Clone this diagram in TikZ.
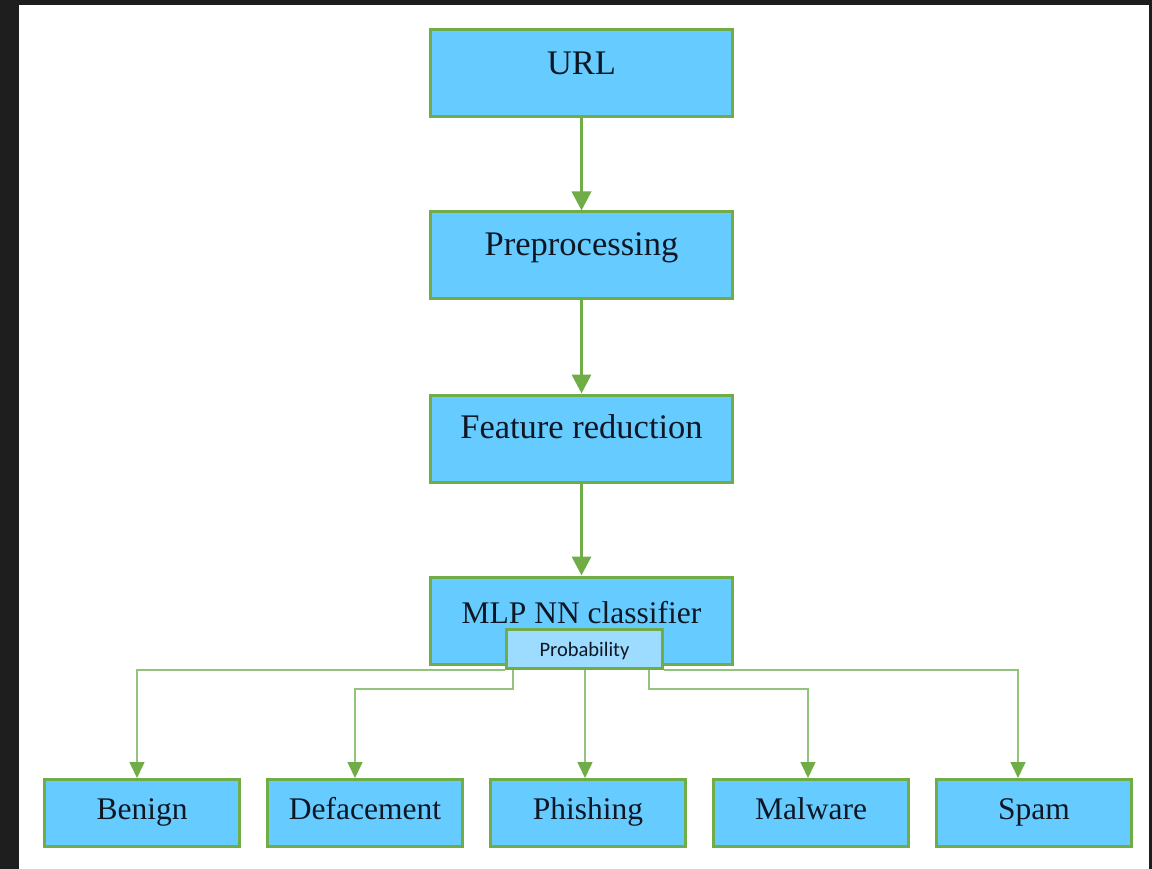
\documentclass[tikz,border=0pt]{standalone}
\usepackage{fontspec}
\setmainfont{Liberation Serif}
\newfontfamily\probfont{Carlito}
\usetikzlibrary{arrows.meta}
\definecolor{boxblue}{HTML}{66CCFF}
\definecolor{probblue}{HTML}{9DDCFF}
\definecolor{edgegreen}{HTML}{70AD47}
\definecolor{thingreen}{HTML}{93C47D}
\definecolor{txtcol}{HTML}{0F1724}
\definecolor{framecol}{HTML}{1E1E1E}
\begin{document}
\begin{tikzpicture}[x=1pt,y=-1pt,
  boxbase/.style={draw=edgegreen, line width=3pt, fill=boxblue, inner sep=0pt, text=txtcol},
  topbox/.style={boxbase, minimum width=302pt, minimum height=87pt,
    font=\fontsize{34.5}{40}\selectfont, text height=20pt, text depth=20pt},
  mlpbox/.style={boxbase, minimum width=302pt, minimum height=87pt,
    font=\fontsize{31.5}{38}\selectfont, text height=22pt, text depth=17pt},
  classbox/.style={boxbase, minimum width=195pt, minimum height=67pt,
    font=\fontsize{31.5}{38}\selectfont, text height=22pt, text depth=10pt},
  probbox/.style={boxbase, line width=2.5pt, fill=probblue, minimum width=156pt, minimum height=39pt,
    font=\probfont\fontsize{20.5}{24}\selectfont, text height=15pt, text depth=0pt},
  mainarrow/.style={draw=edgegreen, line width=3.5pt, -{Triangle[width=19pt,length=19pt]}},
  thinarrow/.style={draw=thingreen, line width=1.6pt,
    -{Triangle[width=15pt,length=16pt,color=edgegreen,fill=edgegreen]}}
]
\useasboundingbox (0,0) rectangle (1152,869);
\fill[framecol] (0,0) rectangle (1152,869);
\fill[white] (19,5) rectangle (1149,869);

\node[topbox, text height=22pt, text depth=18pt] (url)  at (581.5,73) {URL};
\node[topbox] (pre)  at (581.5,255.5) {Preprocessing};
\node[topbox] (feat) at (581.5,438.5) {Feature reduction};
\node[mlpbox] (mlp)  at (581.5,620.5) {MLP NN classifier};

\draw[mainarrow] (url.south) -- (pre.north);
\draw[mainarrow] (pre.south) -- (feat.north);
\draw[mainarrow] (feat.south) -- (mlp.north);

\node[classbox] (benign) at (142,813)  {Benign};
\node[classbox] (deface) at (365,813)  {Defacement};
\node[classbox] (phish)  at (588,813)  {Phishing};
\node[classbox] (malw)   at (811,813)  {Malware};
\node[classbox] (spam)   at (1034,813) {Spam};

\node[probbox] (prob) at (584.5,649) {Probability};

\draw[thinarrow] (prob.south west) -| ([xshift=-5pt]benign.north);
\draw[thinarrow] ([xshift=8pt]prob.south west) -- ++(0,19.5) -| ([xshift=-10pt]deface.north);
\draw[thinarrow] ([xshift=0.5pt]prob.south) -- ([xshift=0.5pt]prob.south |- phish.north);
\draw[thinarrow] ([xshift=-14.5pt]prob.south east) -- ++(0,19.5) -| ([xshift=-3pt]malw.north);
\draw[thinarrow] (prob.south east) -| ([xshift=-16pt]spam.north);
\end{tikzpicture}
\end{document}
